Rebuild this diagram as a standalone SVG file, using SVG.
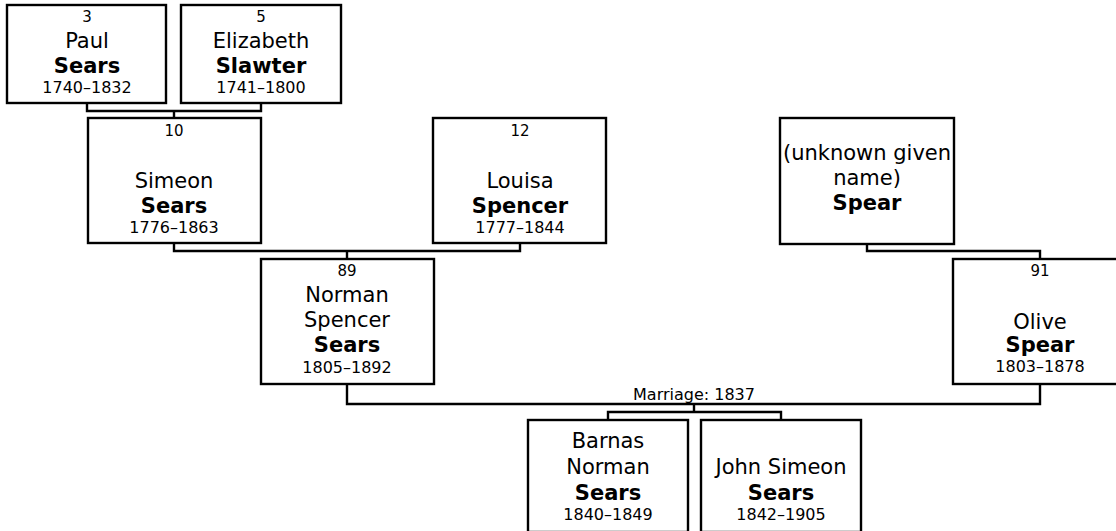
<svg xmlns="http://www.w3.org/2000/svg" width="1116" height="531" viewBox="0 0 1116 531">
<style>
.box{fill:#fff;stroke:#000;stroke-width:2.4}
.ln{fill:none;stroke:#000;stroke-width:2.4}
text{font-family:"DejaVu Sans","Verdana",sans-serif;fill:#000;text-anchor:middle}
.n{font-size:21px}
.b{font-size:21px;font-weight:bold}
.s{font-size:16px}
.id{font-size:15px}
</style>
<rect width="1116" height="531" fill="#fff"/>
<g id="connectors">
<path class="ln" d="M87,103 V111 H261 V103 M174,111 V118"/>
<path class="ln" d="M174,243 V251 H520 V243 M347,251 V259"/>
<path class="ln" d="M867,244 V251 H1040 V259"/>
<path class="ln" d="M347,384 V404 H1040 V384 M694,404 V412 M608,420 V412 H781 V420"/>
<text class="s" x="694" y="400">Marriage: 1837</text>
</g>
<g id="p3">
<rect class="box" x="7" y="5" width="159" height="98"/>
<text class="id" x="87" y="22">3</text>
<text class="n" x="87" y="48">Paul</text>
<text class="b" x="87" y="73">Sears</text>
<text class="s" x="87" y="93">1740–1832</text>
</g>
<g id="p5">
<rect class="box" x="181" y="5" width="160" height="98"/>
<text class="id" x="261" y="22">5</text>
<text class="n" x="261" y="48">Elizabeth</text>
<text class="b" x="261" y="73">Slawter</text>
<text class="s" x="261" y="93">1741–1800</text>
</g>
<g id="p10">
<rect class="box" x="88" y="118" width="173" height="125"/>
<text class="id" x="174" y="136">10</text>
<text class="n" x="174" y="188">Simeon</text>
<text class="b" x="174" y="213">Sears</text>
<text class="s" x="174" y="233">1776–1863</text>
</g>
<g id="p12">
<rect class="box" x="433" y="118" width="173" height="125"/>
<text class="id" x="520" y="136">12</text>
<text class="n" x="520" y="188">Louisa</text>
<text class="b" x="520" y="213">Spencer</text>
<text class="s" x="520" y="233">1777–1844</text>
</g>
<g id="pspear">
<rect class="box" x="780" y="118" width="174" height="126"/>
<text class="n" x="867" y="160">(unknown given</text>
<text class="n" x="867" y="185">name)</text>
<text class="b" x="867" y="210">Spear</text>
</g>
<g id="p89">
<rect class="box" x="261" y="259" width="173" height="125"/>
<text class="id" x="347" y="276">89</text>
<text class="n" x="347" y="302">Norman</text>
<text class="n" x="347" y="327">Spencer</text>
<text class="b" x="347" y="352">Sears</text>
<text class="s" x="347" y="373">1805–1892</text>
</g>
<g id="p91">
<rect class="box" x="953" y="259" width="174" height="125"/>
<text class="id" x="1040" y="276">91</text>
<text class="n" x="1040" y="329">Olive</text>
<text class="b" x="1040" y="352">Spear</text>
<text class="s" x="1040" y="372">1803–1878</text>
</g>
<g id="pbarnas">
<rect class="box" x="528" y="420" width="160" height="112"/>
<text class="n" x="608" y="448">Barnas</text>
<text class="n" x="608" y="474">Norman</text>
<text class="b" x="608" y="500">Sears</text>
<text class="s" x="608" y="520">1840–1849</text>
</g>
<g id="pjohn">
<rect class="box" x="701" y="420" width="160" height="112"/>
<text class="n" x="781" y="474">John Simeon</text>
<text class="b" x="781" y="500">Sears</text>
<text class="s" x="781" y="520">1842–1905</text>
</g>
</svg>
